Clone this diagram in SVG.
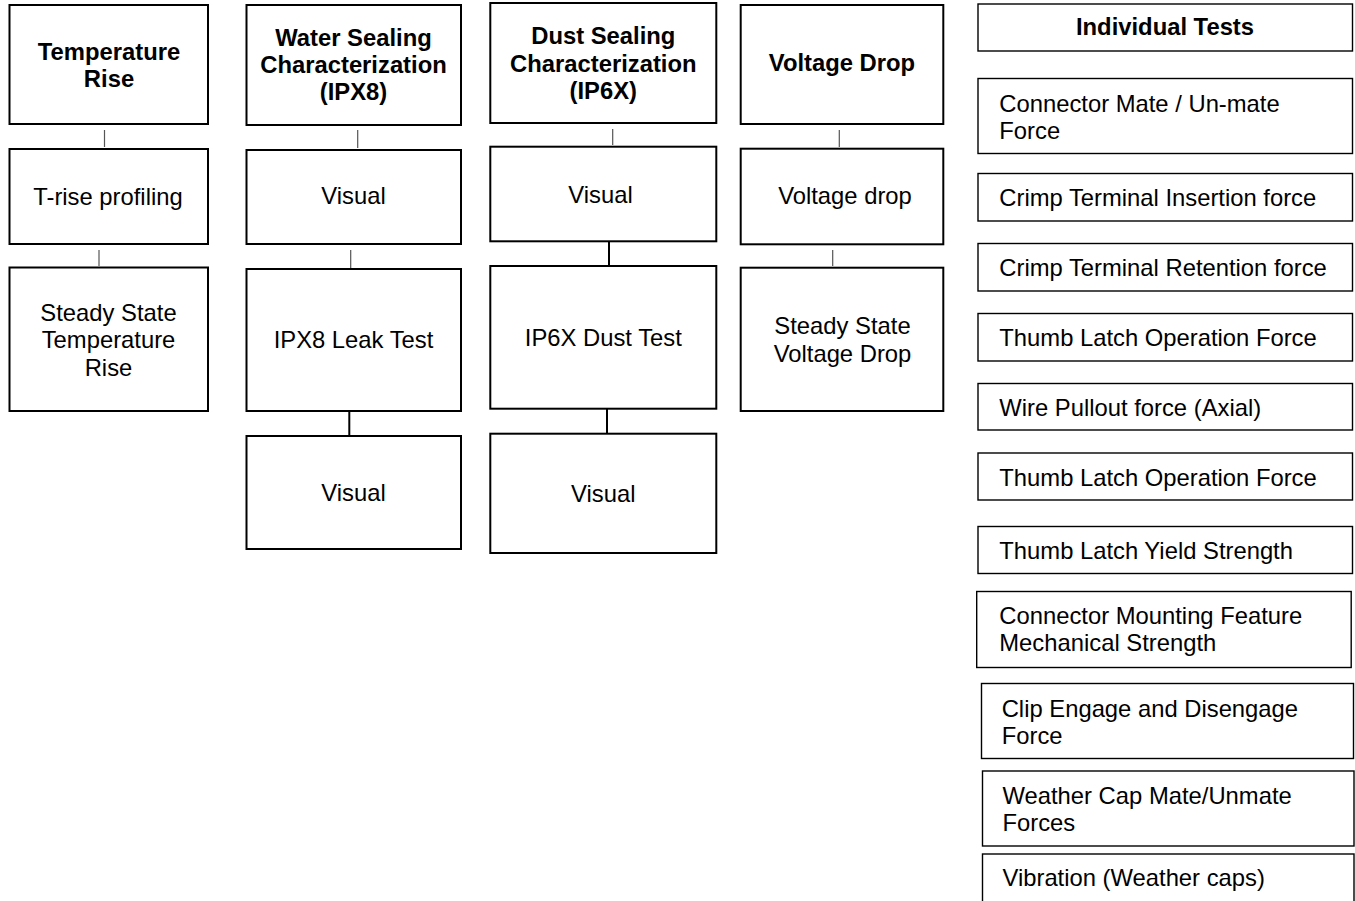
<svg xmlns="http://www.w3.org/2000/svg" width="1355" height="901" viewBox="0 0 1355 901">
<style>
text{font-family:"Liberation Sans",Arial,sans-serif;font-size:23.8px;fill:#000}
.b{font-weight:bold}
.c{text-anchor:middle}
.n{fill:#fff;stroke:#000;stroke-width:2}
.r{fill:#fff;stroke:#000;stroke-width:1.4}
.g{stroke:#555;stroke-width:1.2;fill:none}
.k{stroke:#000;stroke-width:2;fill:none}
</style>
<rect width="1355" height="901" fill="#fff"/>
<g id="connectors">
<line class="g" x1="104.5" y1="130" x2="104.5" y2="147"/>
<line class="g" x1="99" y1="250" x2="99" y2="266"/>
<line class="g" x1="357.7" y1="130" x2="357.7" y2="148"/>
<line class="g" x1="350.7" y1="250" x2="350.7" y2="268"/>
<line class="k" x1="349.3" y1="412" x2="349.3" y2="435"/>
<line class="g" x1="612.7" y1="129" x2="612.7" y2="145"/>
<line class="k" x1="609" y1="242" x2="609" y2="265"/>
<line class="k" x1="607" y1="408" x2="607" y2="433"/>
<line class="g" x1="839.3" y1="130" x2="839.3" y2="147"/>
<line class="g" x1="832.7" y1="250" x2="832.7" y2="266"/>
</g>
<g id="temp-rise"><rect class="n" x="9.5" y="5" width="198.5" height="119"/><text class="b c" x="109" y="60">Temperature</text><text class="b c" x="109" y="87.3">Rise</text></g>
<g id="t-rise-profiling"><rect class="n" x="9.5" y="149" width="198.5" height="95"/><text class="c" x="108" y="205">T-rise profiling</text></g>
<g id="steady-temp"><rect class="n" x="9.5" y="267.5" width="198.5" height="143.5"/><text class="c" x="108.5" y="321">Steady State</text><text class="c" x="108.5" y="348.3">Temperature</text><text class="c" x="108.5" y="375.7">Rise</text></g>

<g id="water-sealing"><rect class="n" x="246.5" y="5" width="214.5" height="120"/><text class="b c" x="353.5" y="45.7">Water Sealing</text><text class="b c" x="353.5" y="73">Characterization</text><text class="b c" x="353.5" y="100.3">(IPX8)</text></g>
<g id="water-visual-1"><rect class="n" x="246.5" y="150" width="214.5" height="94"/><text class="c" x="353.5" y="204">Visual</text></g>
<g id="ipx8-leak"><rect class="n" x="246.5" y="269" width="214.5" height="142"/><text class="c" x="353.5" y="347.7">IPX8 Leak Test</text></g>
<g id="water-visual-2"><rect class="n" x="246.5" y="436" width="214.5" height="113"/><text class="c" x="353.5" y="500.7">Visual</text></g>

<g id="dust-sealing"><rect class="n" x="490.3" y="3" width="226" height="120"/><text class="b c" x="603.3" y="44.3">Dust Sealing</text><text class="b c" x="603.3" y="71.7">Characterization</text><text class="b c" x="603.3" y="98.5">(IP6X)</text></g>
<g id="dust-visual-1"><rect class="n" x="490.3" y="146.7" width="226" height="94.6"/><text class="c" x="600.5" y="202.7">Visual</text></g>
<g id="ip6x-dust"><rect class="n" x="490.3" y="266" width="226" height="142.7"/><text class="c" x="603.3" y="346">IP6X Dust Test</text></g>
<g id="dust-visual-2"><rect class="n" x="490.3" y="433.7" width="226" height="119.3"/><text class="c" x="603.3" y="501.7">Visual</text></g>

<g id="voltage-drop"><rect class="n" x="740.7" y="5" width="202.6" height="119"/><text class="b c" x="842" y="70.8">Voltage Drop</text></g>
<g id="voltage-drop-test"><rect class="n" x="740.7" y="148.7" width="202.6" height="95.6"/><text class="c" x="845" y="204">Voltage drop</text></g>
<g id="steady-voltage"><rect class="n" x="740.7" y="267.7" width="202.6" height="143.3"/><text class="c" x="842.5" y="334">Steady State</text><text class="c" x="842.5" y="361.7">Voltage Drop</text></g>

<g id="individual-tests"><rect class="r" x="978" y="4" width="374.5" height="47"/><text class="b c" x="1165" y="34.5">Individual Tests</text></g>
<g id="mate-unmate"><rect class="r" x="978" y="78.5" width="374.5" height="75"/><text x="999.3" y="111.5">Connector Mate / Un-mate</text><text x="999.3" y="138.5">Force</text></g>
<g id="crimp-insertion"><rect class="r" x="978" y="173.5" width="374.5" height="47.5"/><text x="999.3" y="206">Crimp Terminal Insertion force</text></g>
<g id="crimp-retention"><rect class="r" x="978" y="243.5" width="374.5" height="47.5"/><text x="999.3" y="276">Crimp Terminal Retention force</text></g>
<g id="thumb-latch-1"><rect class="r" x="978" y="313.5" width="374.5" height="47.5"/><text x="999.3" y="346">Thumb Latch Operation Force</text></g>
<g id="wire-pullout"><rect class="r" x="978" y="383.5" width="374.5" height="46.5"/><text x="999.3" y="416">Wire Pullout force (Axial)</text></g>
<g id="thumb-latch-2"><rect class="r" x="978" y="453" width="374.5" height="47"/><text x="999.3" y="486">Thumb Latch Operation Force</text></g>
<g id="thumb-yield"><rect class="r" x="978" y="526.5" width="374.5" height="47"/><text x="999.3" y="559">Thumb Latch Yield Strength</text></g>
<g id="mounting-feature"><rect class="r" x="976.7" y="591.5" width="374.5" height="76"/><text x="999.3" y="624">Connector Mounting Feature</text><text x="999.3" y="651">Mechanical Strength</text></g>
<g id="clip-engage"><rect class="r" x="981.5" y="683.5" width="372" height="75"/><text x="1001.7" y="716.5">Clip Engage and Disengage</text><text x="1001.7" y="743.5">Force</text></g>
<g id="weather-cap"><rect class="r" x="982.5" y="771" width="371.5" height="75"/><text x="1002.5" y="803.5">Weather Cap Mate/Unmate</text><text x="1002.5" y="831">Forces</text></g>
<g id="vibration"><rect class="r" x="982.5" y="854" width="371.5" height="60"/><text x="1002.5" y="885.5">Vibration (Weather caps)</text></g>
</svg>
